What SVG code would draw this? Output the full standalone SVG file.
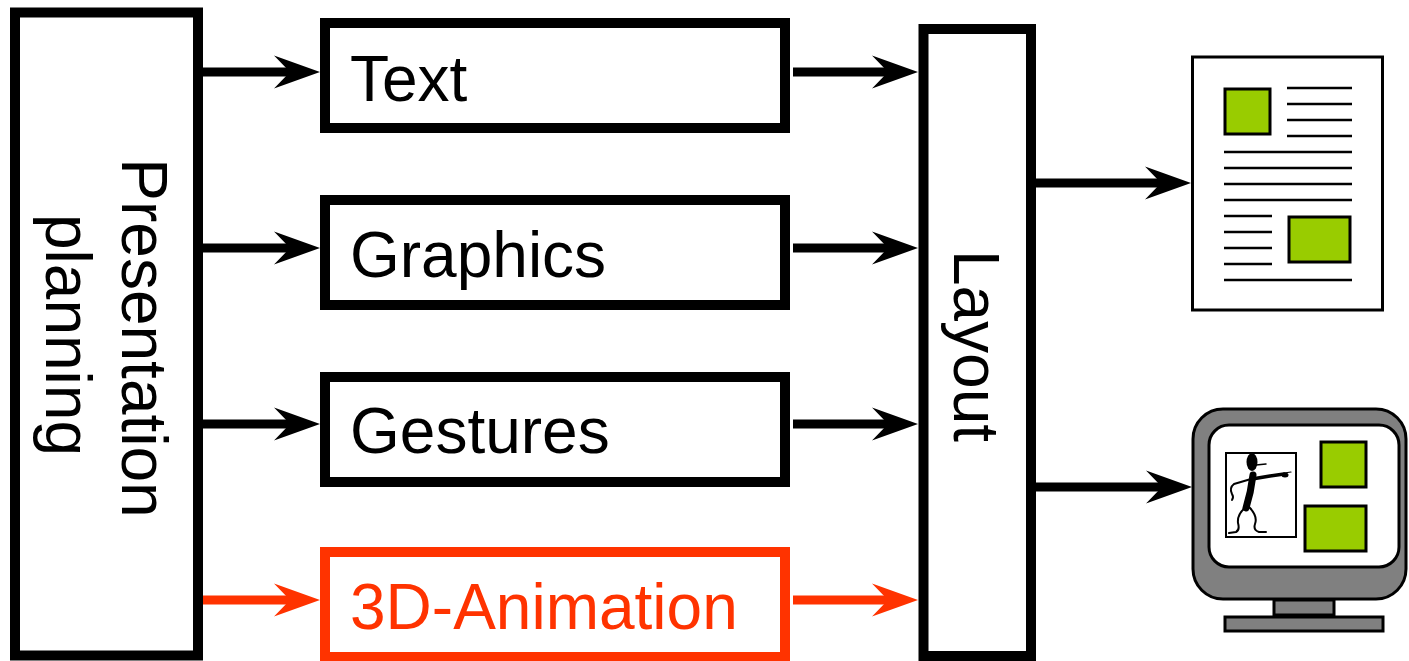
<svg xmlns="http://www.w3.org/2000/svg" width="1409" height="661" viewBox="0 0 1409 661">
  <style>
    .box { fill: #ffffff; stroke: #000000; stroke-width: 10; }
    .box.red { stroke: #ff3300; }
    .label { font-family: "Liberation Sans", Arial, sans-serif; font-size: 64px; fill: #000000; }
    .label.red { fill: #ff3300; }
    .conn { stroke: #000000; stroke-width: 9; fill: none; }
    .conn.red { stroke: #ff3300; }
    .thin { stroke: #000000; stroke-width: 2.5; fill: none; }
    .green { fill: #99cc00; stroke: #000000; stroke-width: 3; }
    .grey { fill: #808080; stroke: #000000; stroke-width: 3; }
  </style>
  <defs>
    <!-- line ends at the notch; the head reaches 28px further -->
    <marker id="head" markerUnits="userSpaceOnUse" viewBox="-20 -18 50 36" markerWidth="50" markerHeight="36" refX="0" refY="0" orient="auto">
      <path d="M28,0 L-18,-16.5 L-2,0 L-18,16.5 Z" fill="#000000"/>
    </marker>
    <marker id="headRed" markerUnits="userSpaceOnUse" viewBox="-20 -18 50 36" markerWidth="50" markerHeight="36" refX="0" refY="0" orient="auto">
      <path d="M28,0 L-18,-16.5 L-2,0 L-18,16.5 Z" fill="#ff3300"/>
    </marker>
  </defs>

  <rect width="1409" height="661" fill="#ffffff"/>

  <!-- connectors -->
  <g id="connectors">
    <line class="conn" x1="203" y1="72" x2="292" y2="72" marker-end="url(#head)"/>
    <line class="conn" x1="203" y1="248" x2="292" y2="248" marker-end="url(#head)"/>
    <line class="conn" x1="203" y1="424" x2="292" y2="424" marker-end="url(#head)"/>
    <line class="conn red" x1="203" y1="600" x2="292" y2="600" marker-end="url(#headRed)"/>
    <line class="conn" x1="793" y1="72" x2="890" y2="72" marker-end="url(#head)"/>
    <line class="conn" x1="793" y1="248" x2="890" y2="248" marker-end="url(#head)"/>
    <line class="conn" x1="793" y1="424" x2="890" y2="424" marker-end="url(#head)"/>
    <line class="conn red" x1="793" y1="600" x2="890" y2="600" marker-end="url(#headRed)"/>
    <line class="conn" x1="1036" y1="183" x2="1163" y2="183" marker-end="url(#head)"/>
    <line class="conn" x1="1036" y1="487" x2="1164" y2="487" marker-end="url(#head)"/>
  </g>

  <!-- planning stage -->
  <g id="presentation-planning">
    <rect class="box" x="15" y="12.5" width="183" height="643"/>
    <text class="label" text-anchor="middle" transform="translate(122,338) rotate(90)">Presentation</text>
    <text class="label" text-anchor="middle" transform="translate(46,335) rotate(90)">planning</text>
  </g>

  <!-- media generators -->
  <g id="text">
    <rect class="box" x="325" y="23" width="460" height="105"/>
    <text class="label" x="350" y="101">Text</text>
  </g>
  <g id="graphics">
    <rect class="box" x="325" y="200" width="460" height="105"/>
    <text class="label" x="350" y="277">Graphics</text>
  </g>
  <g id="gestures">
    <rect class="box" x="325" y="377" width="460" height="105"/>
    <text class="label" x="350" y="453">Gestures</text>
  </g>
  <g id="animation">
    <rect class="box red" x="325" y="552" width="460" height="105"/>
    <text class="label red" x="350" y="629">3D-Animation</text>
  </g>

  <!-- layout stage -->
  <g id="layout">
    <rect class="box" x="923.5" y="29" width="107.5" height="627"/>
    <text class="label" text-anchor="middle" transform="translate(954,346) rotate(90)">Layout</text>
  </g>

  <!-- printed page output -->
  <g id="document">
    <rect x="1192.5" y="57" width="190" height="253" fill="#ffffff" stroke="#000000" stroke-width="3"/>
    <rect class="green" x="1225" y="89" width="45" height="45"/>
    <rect class="green" x="1289" y="217" width="61" height="45"/>
    <g class="thin">
      <line x1="1287" y1="88" x2="1352" y2="88"/>
      <line x1="1287" y1="104" x2="1352" y2="104"/>
      <line x1="1287" y1="120" x2="1352" y2="120"/>
      <line x1="1287" y1="136" x2="1352" y2="136"/>
      <line x1="1224" y1="152" x2="1352" y2="152"/>
      <line x1="1224" y1="168" x2="1352" y2="168"/>
      <line x1="1224" y1="184" x2="1352" y2="184"/>
      <line x1="1224" y1="200" x2="1352" y2="200"/>
      <line x1="1224" y1="216" x2="1272" y2="216"/>
      <line x1="1224" y1="232" x2="1272" y2="232"/>
      <line x1="1224" y1="248" x2="1272" y2="248"/>
      <line x1="1224" y1="264" x2="1272" y2="264"/>
      <line x1="1224" y1="280" x2="1352" y2="280"/>
    </g>
  </g>

  <!-- screen output -->
  <g id="monitor">
    <rect class="grey" x="1274" y="600" width="60" height="15"/>
    <rect class="grey" x="1225" y="617" width="158" height="14"/>
    <rect class="grey" x="1193" y="409" width="213" height="190" rx="30" ry="30"/>
    <rect x="1209" y="425" width="190" height="142" rx="20" ry="20" fill="#ffffff" stroke="#000000" stroke-width="3"/>
    <rect class="green" x="1321" y="442" width="45" height="45"/>
    <rect class="green" x="1305" y="506" width="61" height="45"/>
    <rect x="1226" y="453" width="70" height="84" fill="#ffffff" stroke="#000000" stroke-width="2"/>
    <!-- pointing presenter -->
    <g fill="none" stroke="#000000" stroke-linecap="round" stroke-linejoin="round">
      <ellipse cx="1252" cy="462" rx="5.5" ry="9" fill="#000000" stroke="none"/>
      <path d="M1256,465 L1266,464" stroke-width="1.5"/>
      <path d="M1252,479 L1270,476 L1284,474" stroke-width="3.5"/>
      <ellipse cx="1285" cy="475" rx="3.5" ry="2.5" fill="#000000" stroke="none"/>
      <path d="M1284,473 L1291,472" stroke-width="1.2"/>
      <path d="M1253,475 Q1251,492 1246,508" stroke-width="7"/>
      <path d="M1251,479 L1234,484 Q1229,488 1232,494 Q1234,497 1232,500" stroke-width="2"/>
      <path d="M1246,507 Q1237,514 1238,523 Q1240,530 1236,532 L1229,533" stroke-width="2"/>
      <path d="M1249,507 Q1258,516 1255,524 Q1253,530 1259,532 L1266,532" stroke-width="2"/>
    </g>
  </g>
</svg>
